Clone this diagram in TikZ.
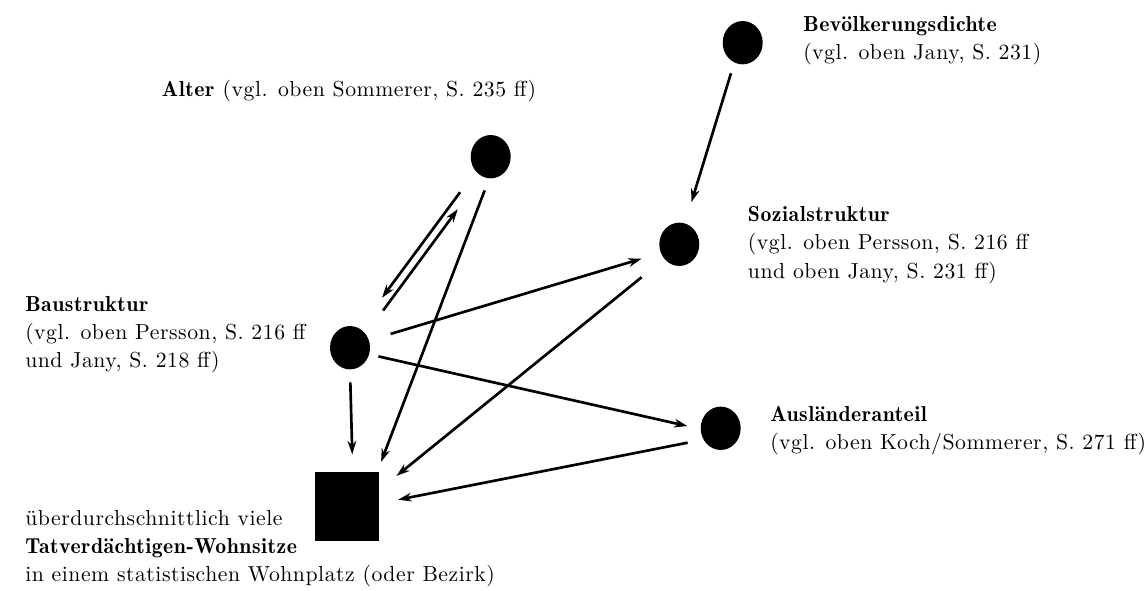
\documentclass[tikz,border=0pt]{standalone}
\usepackage{fontspec}
\setmainfont{lmroman10-regular.otf}[BoldFont=lmromandemi10-regular.otf, LetterSpace=2.4]
\usepackage{tikz}
\usetikzlibrary{arrows.meta, shapes.geometric, positioning}
\newcommand{\kopf}[1]{\textbf{#1}}
\tikzset{
  dn/.style={ellipse,fill=black,inner sep=0,minimum width=30pt,minimum height=32.5pt},
  sn/.style={rectangle,fill=black,inner sep=0,minimum width=48pt,minimum height=51.75pt},
  ln/.style={align=left,anchor=base west,inner sep=0,font=\fontsize{16.3}{21}\selectfont},
  to/.style={-{Stealth[length=10pt,width=6.5pt]},line width=2pt},
}

\begin{document}
\begin{tikzpicture}[x=0.75pt,y=-0.75pt]
  \useasboundingbox (0,0) rectangle (1144,591);

  % Einflussgroessen
  \node [dn] (bev) at (742.7,42.7) {};
  \node [dn] (alter) at (490.7,156.7) {};
  \node [dn] (soz) at (679.3,244.3) {};
  \node [dn] (bau) at (350,347.7) {};
  \node [dn] (ausl) at (720.7,428.3) {};
  \node [sn] (tv) at (347.2,506.2) {};

  % Beschriftungen (base = letzte Zeile)
  \node [ln] (bevtxt) at (803,59.5) {\kopf{Bevölkerungsdichte}\\(vgl. oben Jany, S. 231)};
  \node [ln] (altertxt) at (161.7,96.7) {\kopf{Alter} (vgl. oben Sommerer, S. 235 ff)};
  \node [ln] (soztxt) at (747.7,278) {\kopf{Sozialstruktur}\\(vgl. oben Persson, S. 216 ff\\und oben Jany, S. 231 ff)};
  \node [ln] (bautxt) at (25,367) {\kopf{Baustruktur}\\(vgl. oben Persson, S. 216 ff\\und Jany, S. 218 ff)};
  \node [ln] (ausltxt) at (770,449) {\kopf{Ausländeranteil}\\(vgl. oben Koch/Sommerer, S. 271 ff)};
  \node [ln] (tvtxt) at (25,581.7) {überdurchschnittlich viele\\\kopf{Tatverdächtigen-Wohnsitze}\\in einem statistischen Wohnplatz (oder Bezirk)};

  % Wirkungen
  \draw [to, shorten <=8.3pt, shorten >=16.5pt] (bev.247) -- (soz.75);
  \draw [to, shorten <=19.5pt, shorten >=28.5pt] (alter.224) -- (bau.64);
  \draw [to, shorten <=21.8pt, shorten >=30.5pt] (bau.41) -- (alter.246);
  \draw [to, shorten <=9.5pt, shorten >=7.7pt] (alter.266) -- (tv.49);
  \draw [to, shorten <=16.8pt, shorten >=15pt] (bau.21) -- (soz.205);
  \draw [to, shorten <=7pt, shorten >=10pt] (bau.341) -- (ausl.182);
  \draw [to, shorten <=9.6pt, shorten >=12.8pt] (bau.270) -- (tv.81);
  \draw [to, shorten <=21.8pt, shorten >=16.5pt] (soz.224) -- (tv.27);
  \draw [to, shorten <=12pt, shorten >=14.3pt] (ausl.213) -- (tv.5);
\end{tikzpicture}
\end{document}
